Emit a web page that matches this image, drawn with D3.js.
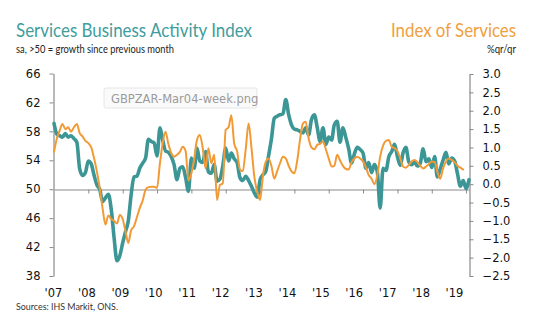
<!DOCTYPE html>
<html>
<head>
<meta charset="utf-8">
<script src="https://cdn.jsdelivr.net/npm/d3@7"></script>
<style>
  body { margin: 0; background: #fff; }
  svg { display: block; }
</style>
</head>
<body>
<div id="chart"></div>
<script>
// Services PMI (left axis), monthly Jan 2007 - Feb 2019
const pmiStart = new Date(2007, 0, 1)
const pmiValues = [
  59.1, 57.6, 57.4, 57.2, 57.7, 57.2, 57.4, 57.0, 56.5, 52.8, 51.9, 52.3,
  53.9, 53.5, 52.0, 50.6, 50.0, 48.3, 48.8, 49.3, 47.2, 43.3, 40.1, 40.8,
  42.6, 44.2, 45.6, 49.3, 51.7, 51.8, 52.9, 53.6, 54.3, 56.9, 56.6, 56.4,
  54.6, 58.5, 56.9, 55.3, 55.1, 54.5, 53.4, 51.3, 52.9, 53.1, 51.6, 49.7,
  54.3, 52.9, 55.7, 53.9, 53.7, 55.2, 52.4, 52.2, 53.4, 51.1, 51.4, 53.2,
  55.7, 53.9, 55.0, 54.2, 53.7, 51.6, 51.2, 51.8, 51.2, 50.4, 49.5, 48.9,
  51.3, 52.0, 52.4, 54.6, 56.9, 59.8, 60.1, 60.3, 60.4, 62.4, 60.3, 58.9,
  58.3, 58.2, 58.0, 57.8, 58.5, 57.5, 59.6, 60.3, 58.5, 56.6, 58.5, 56.2,
  57.2, 56.8, 58.9, 59.4, 56.5, 58.5, 57.2, 55.6, 53.6, 54.9, 55.8, 55.5,
  55.0, 52.9, 53.7, 52.3, 53.4, 52.4, 47.4, 52.9, 52.6, 54.5, 55.2, 56.2,
  54.5, 53.3, 55.0, 55.8, 53.8, 53.4, 53.8, 53.2, 53.6, 55.6, 53.8, 54.2,
  53.0, 54.5, 51.7, 52.8, 54.0, 55.1, 53.5, 54.3, 53.9, 52.2, 50.4, 51.2,
  50.1, 51.3
]

// Index of Services %3m/3m (right axis), monthly Jan 2007 - Dec 2018
const iosStart = new Date(2007, 0, 1)
const iosValues = [
  0.88, 1.25, 1.45, 1.64, 1.50, 1.55, 1.43, 1.55, 1.64, 1.39, 1.30, 1.18,
  1.12, 1.00, 0.72, 0.35, -0.10, -0.66, -1.10, -0.85, -0.95, -1.00, -1.07, -0.84,
  -0.95, -1.30, -1.60, -1.25, -1.15, -0.90, -0.65, -0.45, -0.15, -0.08, -0.07, -0.07,
  -0.10, 0.57, 1.10, 1.43, 1.10, 0.85, 0.75, 0.80, 0.88, 1.02, 0.90, 0.10,
  0.30, 0.70, 1.20, 1.34, 1.00, 0.43, 0.98, 0.57, 0.80, -0.43, -0.02, 0.02,
  1.48, 1.55, 1.88, 1.10, 0.90, 0.40, 0.35, 0.95, 1.65, 1.00, 0.20, -0.20,
  -0.43, 0.25, 0.60, 0.70, 0.50, 0.15, 0.35, 0.57, 0.75, 0.70, 0.50, 0.35,
  0.30, 0.66, 1.20, 1.65, 1.70, 1.25, 1.00, 0.95, 1.07, 1.10, 1.16, 0.95,
  0.70, 0.48, 0.50, 0.80, 0.65, 0.50, 0.42, 0.40, 0.60, 0.70, 0.75, 0.70,
  0.62, 0.45, 0.25, 0.15, 0.00, 0.25, 0.75, 1.05, 1.18, 1.20, 1.02, 0.98,
  0.90, 0.70, 0.48, 0.45, 0.52, 0.62, 0.66, 0.60, 0.50, 0.43, 0.48, 0.55,
  0.62, 0.60, 0.35, 0.15, 0.43, 0.62, 0.70, 0.66, 0.60, 0.50, 0.45, 0.40
]

const leftTicks = [38, 42, 46, 50, 54, 58, 62, 66]
const rightTicks = [-2.5, -2.0, -1.5, -1.0, -0.5, 0.0, 0.5, 1.0, 1.5, 2.0, 2.5, 3.0]
const yearLabels = ["'07", "'08", "'09", "'10", "'11", "'12", "'13", "'14", "'15", "'16", "'17", "'18", "'19"]
const years = [2007, 2008, 2009, 2010, 2011, 2012, 2013, 2014, 2015, 2016, 2017, 2018, 2019]

const teal = '#3d9696'
const orange = '#f29a36'
const axisGrey = '#8a8a8a'
const titleFont = 'Lato, "Noto Sans", sans-serif'
const tickFont = '"DejaVu Sans", Verdana, sans-serif'

const width = 539
const height = 329
const plot = { left: 53.5, right: 469.5, top: 73.5, bottom: 276 }

const svg = d3.select('#chart')
    .append('svg')
    .attr('width', width)
    .attr('height', height)

const pmiData = pmiValues.map((v, i) => ({ x: d3.timeMonth.offset(pmiStart, i), y: v }))
const iosData = iosValues.map((v, i) => ({ x: d3.timeMonth.offset(iosStart, i), y: v }))

// Scales
const xScale = d3.scaleTime()
    .domain([new Date(2007, 0, 1), new Date(2019, 1, 1)])
    .range([plot.left + 0.5, plot.right - 0.5])
const xLabelScale = d3.scaleLinear()
    .domain([2007, 2019])
    .range([53, 454])
const yLeft = d3.scaleLinear()
    .domain([38, 66])
    .range([plot.bottom, plot.top])
const yRight = d3.scaleLinear()
    .domain([-2.5, 3.0])
    .range([plot.bottom, plot.top + 0.5])

// Titles
function fitText(sel, w) {
    sel.attr('textLength', w).attr('lengthAdjust', 'spacingAndGlyphs')
    return sel
}
fitText(svg.append('text')
    .attr('x', 16).attr('y', 37)
    .attr('font-family', titleFont).attr('font-size', 19)
    .attr('fill', '#419d9d')
    .text('Services Business Activity Index'), 236)
fitText(svg.append('text')
    .attr('x', 16).attr('y', 52.5)
    .attr('font-family', titleFont).attr('font-size', 10.5)
    .attr('fill', '#222')
    .text('sa, >50 = growth since previous month'), 158)
fitText(svg.append('text')
    .attr('x', 391).attr('y', 37)
    .attr('font-family', titleFont).attr('font-size', 19)
    .attr('fill', '#f0a040')
    .text('Index of Services'), 125)
fitText(svg.append('text')
    .attr('x', 487).attr('y', 52.5)
    .attr('font-family', titleFont).attr('font-size', 10.5)
    .attr('fill', '#222')
    .text('%qr/qr'), 29)
fitText(svg.append('text')
    .attr('x', 16).attr('y', 310)
    .attr('font-family', titleFont).attr('font-size', 9.5)
    .attr('fill', '#333')
    .text('Sources: IHS Markit, ONS.'), 102)

// Left axis
const leftAxis = d3.axisLeft(yLeft)
    .tickValues(leftTicks)
    .tickFormat(d3.format('d'))
    .tickSizeInner(4)
    .tickSizeOuter(0)
    .tickPadding(9)
const la = svg.append('g')
    .attr('transform', `translate(${plot.left}, 0)`)
    .call(leftAxis)

// Right axis
const rightAxis = d3.axisRight(yRight)
    .tickValues(rightTicks)
    .tickFormat(d3.format('.1f'))
    .tickSizeInner(4)
    .tickSizeOuter(0)
    .tickPadding(9)
const ra = svg.append('g')
    .attr('transform', `translate(${plot.right}, 0)`)
    .call(rightAxis)

for (const ax of [la, ra]) {
    ax.select('.domain').attr('stroke', axisGrey).attr('stroke-width', 1.2)
    ax.selectAll('.tick line').attr('stroke', axisGrey)
    ax.selectAll('text')
        .attr('font-family', tickFont)
        .attr('font-size', 11.5)
        .attr('fill', '#111')
}

// 50 line with year ticks
const zeroY = Math.round(yLeft(50)) + 0.5
const midAxis = d3.axisBottom(xScale)
    .tickValues(years.slice(1).map(y => new Date(y, 0, 1)))
    .tickFormat('')
    .tickSizeInner(4)
    .tickSizeOuter(0)
const ma = svg.append('g')
    .attr('transform', `translate(0, ${zeroY})`)
    .call(midAxis)
ma.select('.domain').attr('stroke', axisGrey).attr('stroke-width', 1.2)
ma.selectAll('.tick line').attr('stroke', axisGrey)

// Year labels
const bottomAxis = d3.axisBottom(xLabelScale)
    .tickValues(years)
    .tickFormat((d, i) => yearLabels[i])
    .tickSize(0)
    .tickPadding(0)
const ba = svg.append('g')
    .attr('transform', `translate(0, 289)`)
    .call(bottomAxis)
ba.select('.domain').remove()
ba.selectAll('text')
    .attr('font-family', tickFont)
    .attr('font-size', 11.5)
    .attr('fill', '#111')

// Lines
const pmiLine = d3.line()
    .x(d => xScale(d.x))
    .y(d => yLeft(d.y))
    .curve(d3.curveMonotoneX)
const iosLine = d3.line()
    .x(d => xScale(d.x))
    .y(d => yRight(d.y))
    .curve(d3.curveMonotoneX)

svg.append('path')
    .datum(pmiData)
    .attr('d', pmiLine)
    .attr('fill', 'none')
    .attr('stroke', teal)
    .attr('stroke-width', 3.6)
    .attr('stroke-linejoin', 'round')
    .attr('stroke-linecap', 'round')

svg.append('path')
    .datum(iosData)
    .attr('d', iosLine)
    .attr('fill', 'none')
    .attr('stroke', orange)
    .attr('stroke-width', 2)
    .attr('stroke-linejoin', 'round')
    .attr('stroke-linecap', 'round')

// File-name overlay box
const tag = svg.append('g').attr('transform', 'translate(104, 88)')
tag.append('rect')
    .attr('width', 153).attr('height', 20).attr('rx', 2)
    .attr('fill', 'rgba(250,250,250,0.9)')
    .attr('stroke', '#e6e6e6')
tag.append('text')
    .attr('x', 7).attr('y', 14.5)
    .attr('font-family', tickFont).attr('font-size', 11.5)
    .attr('fill', '#9a9a9a')
    .text('GBPZAR-Mar04-week.png')
</script>
</body>
</html>
